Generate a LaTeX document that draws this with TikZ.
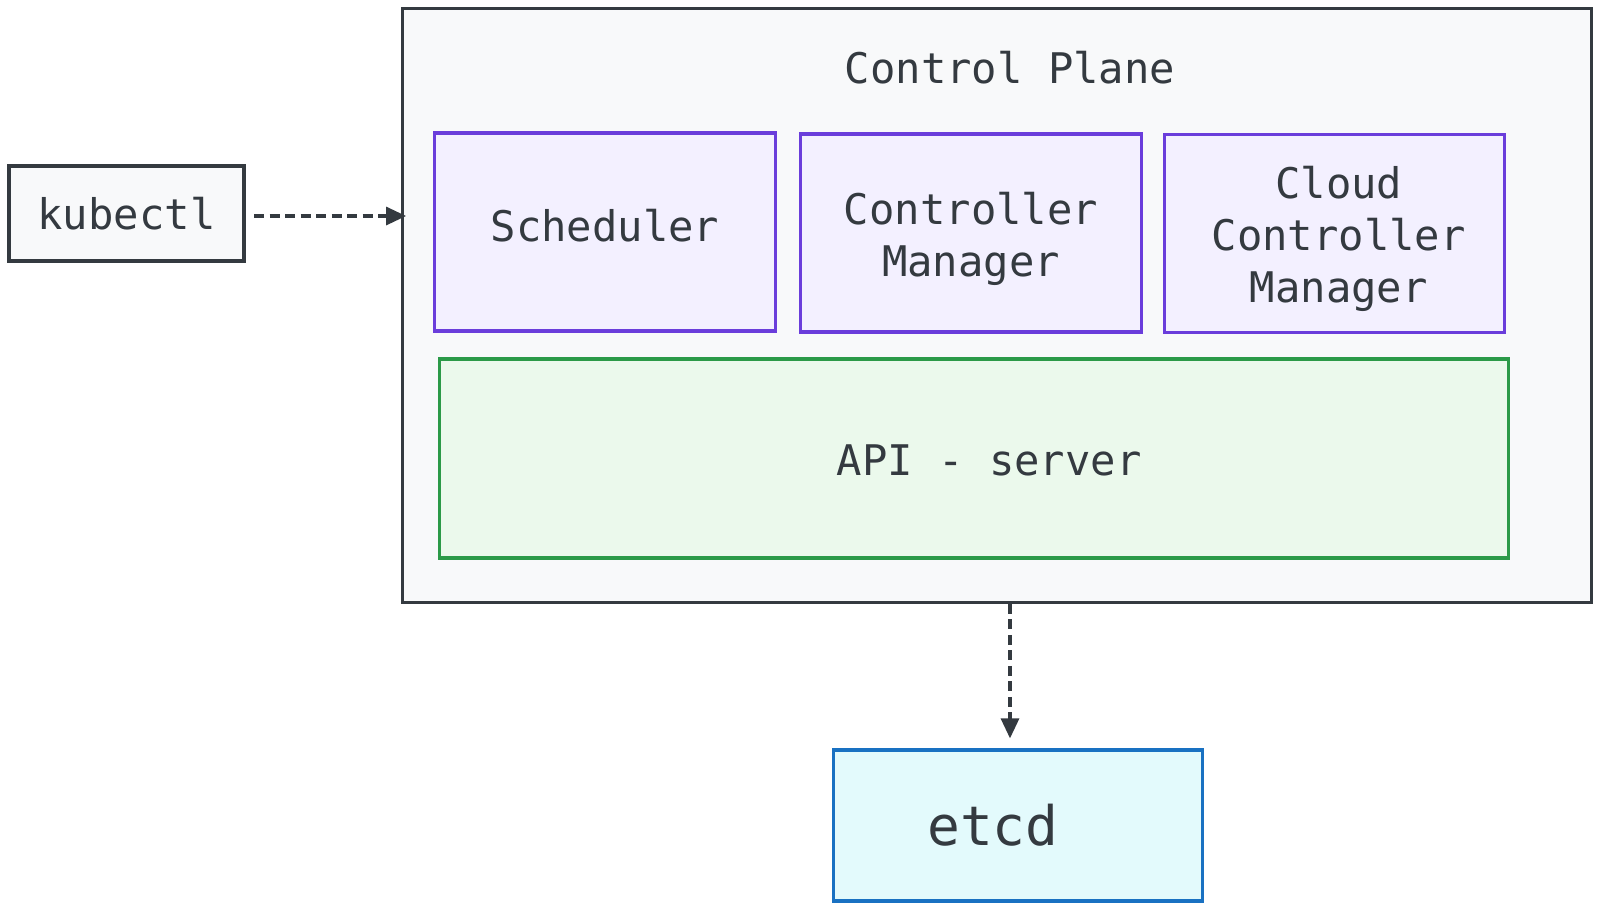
\documentclass[tikz,border=0pt]{standalone}
\usepackage{fontspec}
\setmonofont{DejaVu Sans Mono}
\usetikzlibrary{arrows.meta}

\definecolor{ink}{HTML}{343A40}
\definecolor{planefill}{HTML}{F8F9FA}
\definecolor{violet}{HTML}{6A3DDB}
\definecolor{violetfill}{HTML}{F3F0FF}
\definecolor{leaf}{HTML}{2B9A48}
\definecolor{leaffill}{HTML}{EBF9EC}
\definecolor{sea}{HTML}{1971C2}
\definecolor{seafill}{HTML}{E3FAFC}

\tikzset{
  box/.style={draw, line width=.9pt, inner sep=0pt, align=center, text=ink,
    font=\ttfamily\fontsize{12}{14.8}\selectfont},
  lbl/.style={box, draw=none, fill=none},
  part/.style={box, draw=violet, fill=violetfill, minimum width=3.4cm, minimum height=1.98cm},
  flow/.style={line width=.9pt, ink, dash pattern=on 1mm off .55mm,
    -{Triangle[length=2mm,width=1.8mm]}}
}

\begin{document}
\begin{tikzpicture}[x=0.01cm,y=-0.01cm]
            \useasboundingbox (0,0) rectangle (1600,911);

            \node[box, draw=ink, fill=planefill, minimum width=11.88cm, minimum height=5.93cm] (plane) at (997,305.5) {};
            \node[lbl] (title) at (1010,68) {Control Plane};

            \node[box, draw=ink, fill=planefill, minimum width=2.35cm, minimum height=.95cm] (kubectl) at (126.5,213.5) {kubectl};
            \coordinate (kin) at (254,216);

            \node[part, label={[lbl, yshift=1.7pt]center:Scheduler}] (sched) at (605,232) {};
            \node[part, label={[lbl, yshift=-1.7pt]center:Controller\\Manager}] (ctrl) at (971,233) {};
            \node[part, label={[lbl, xshift=1.2pt, yshift=-1.5pt]center:Cloud\\Controller\\Manager}] (cloud) at (1334.5,233.5) {};

            \node[box, draw=leaf, fill=leaffill, minimum width=10.68cm, minimum height=1.99cm,
              label={[lbl, xshift=4.3pt, yshift=-.5pt]center:API - server}] (api) at (974,458.5) {};

            \node[box, draw=sea, fill=seafill, minimum width=3.68cm, minimum height=1.51cm,
              font=\ttfamily\fontsize{15.5}{18}\selectfont] (etcd) at (1018,825.5) {\hspace*{-.5cm}etcd};

            \draw[flow, shorten >=-.05cm] (kin) -- (kin -| plane.west);
            \draw[flow, shorten >=.1cm] (title.center |- plane.south) -- (title.center |- etcd.north);
        \end{tikzpicture}
\end{document}
